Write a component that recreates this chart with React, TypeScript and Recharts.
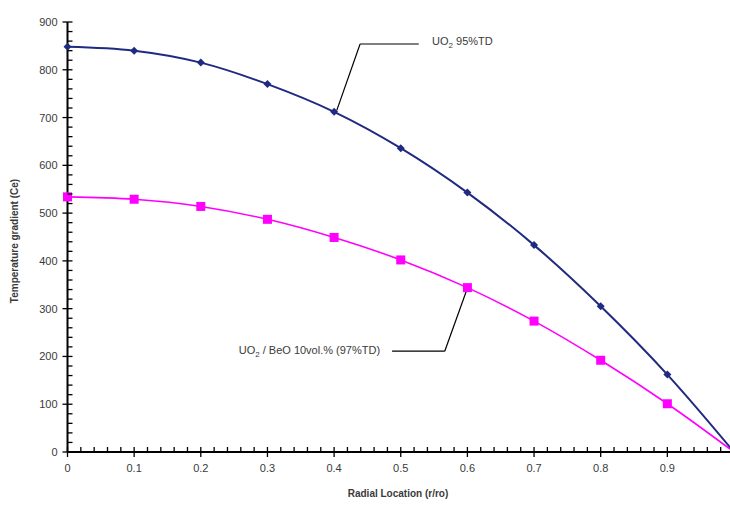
import React from 'react';
import {
    LineChart,
    Line,
    XAxis,
    YAxis,
    ReferenceLine,
    ReferenceDot,
} from 'recharts';

// radial position (r/ro) and temperature gradient readings
const radial = [0, 0.1, 0.2, 0.3, 0.4, 0.5, 0.6, 0.7, 0.8, 0.9, 1.0];
const uo2Values = [848, 840, 815, 770, 712, 636, 543, 433, 305, 162, 0];
const beoValues = [534, 529, 514, 487, 449, 402, 344, 274, 192, 101, 0];

const xMajorTicks = [0, 0.1, 0.2, 0.3, 0.4, 0.5, 0.6, 0.7, 0.8, 0.9];
const yMajorTicks = [0, 100, 200, 300, 400, 500, 600, 700, 800, 900];

const uo2Label = { main: 'UO', sub: '2', rest: ' 95%TD' };
const beoLabel = { main: 'UO', sub: '2', rest: ' / BeO 10vol.% (97%TD)' };

const NAVY = '#1f2a80';
const PINK = '#ff00ff';
const TEXT = '#3a3a3a';
const FONT = '"Liberation Sans", Arial, sans-serif';

const data = radial.map((r, i) => ({ r, uo2: uo2Values[i], beo: beoValues[i] }));

// minor ticks every 0.02 on x, every 20 on y
const xAllTicks = Array.from({ length: 51 }, (_, i) => Math.round(i * 2) / 100);
const yAllTicks = Array.from({ length: 46 }, (_, i) => i * 20);

const isMajorX = (v: number) => xMajorTicks.some(t => Math.abs(t - v) < 1e-6);
const isMajorY = (v: number) => yMajorTicks.includes(v);

const XTick = (props: any) => {
    const { x, y, payload } = props;
    const major = isMajorX(payload.value);
    const top = y - 5;
    const bottom = major ? y + 5 : y;
    return (
        <g>
            <path d={`M${x},${top}L${x},${bottom}`} stroke="#000" strokeWidth={1.3} fill="none" />
            {major && (
                <text x={x} y={y + 20} textAnchor="middle" fontSize={11} fill={TEXT} fontFamily={FONT}>
                    {payload.value}
                </text>
            )}
        </g>
    );
};

const YTick = (props: any) => {
    const { x, y, payload } = props;
    const major = isMajorY(payload.value);
    const left = major ? x - 5 : x;
    return (
        <g>
            <path d={`M${left},${y}L${x + 5},${y}`} stroke="#000" strokeWidth={1.3} fill="none" />
            {major && (
                <text x={x - 10} y={y + 4} textAnchor="end" fontSize={11} fill={TEXT} fontFamily={FONT}>
                    {payload.value}
                </text>
            )}
        </g>
    );
};

const Diamond = (props: any) => {
    const { cx, cy, index } = props;
    if (index === radial.length - 1 || cx == null) return <g key={`d-${index}`} />;
    const s = 4;
    return (
        <path
            key={`d-${index}`}
            d={`M${cx},${cy - s} L${cx + s},${cy} L${cx},${cy + s} L${cx - s},${cy} Z`}
            fill={NAVY}
        />
    );
};

const Square = (props: any) => {
    const { cx, cy, index } = props;
    if (index === radial.length - 1 || cx == null) return <g key={`s-${index}`} />;
    const s = 4.5;
    return <rect key={`s-${index}`} x={cx - s} y={cy - s} width={s * 2} height={s * 2} fill={PINK} />;
};

const annoText = (lbl: { main: string; sub: string; rest: string }, anchor: 'start' | 'end') => (p: any) => (
    <text x={p.cx} y={p.cy} textAnchor={anchor} fontSize={11} fill={TEXT} fontFamily={FONT}>
        {lbl.main}
        <tspan fontSize={8} dy={3}>{lbl.sub}</tspan>
        <tspan dy={-3}>{lbl.rest}</tspan>
    </text>
);

export default function App() {
    return (
        <div style={{ position: 'absolute', left: 0, top: 0, width: 730, height: 506, overflow: 'hidden', background: '#fff' }}>
            {/* plot runs slightly past the right edge, as in the original figure */}
            <LineChart width={736} height={506} data={data} margin={{ top: 22, right: 2, left: 0, bottom: 0 }}>
                <XAxis
                    dataKey="r"
                    type="number"
                    domain={[0, 1]}
                    ticks={xAllTicks}
                    interval={0}
                    tickSize={0}
                    tickMargin={0}
                    tickLine={false}
                    axisLine={{ stroke: '#000', strokeWidth: 2 }}
                    tick={<XTick />}
                    height={54}
                    label={(lp: any) => {
                        const vb = lp.viewBox;
                        return (
                            <text x={398} y={vb.y + 45} textAnchor="middle" fontSize={10} fontWeight="bold" fill={TEXT} fontFamily={FONT}>
                                Radial Location (r/ro)
                            </text>
                        );
                    }}
                />
                <YAxis
                    type="number"
                    domain={[0, 900]}
                    ticks={yAllTicks}
                    interval={0}
                    tickSize={0}
                    tickMargin={0}
                    tickLine={false}
                    axisLine={{ stroke: '#000', strokeWidth: 2 }}
                    tick={<YTick />}
                    width={67.5}
                    label={(lp: any) => {
                        const vb = lp.viewBox;
                        const cx = 18;
                        const cy = vb.y + vb.height / 2 + 4;
                        return (
                            <text x={cx} y={cy} transform={`rotate(-90 ${cx} ${cy})`} textAnchor="middle" fontSize={10} fontWeight="bold" fill={TEXT} fontFamily={FONT}>
                                Temperature gradient (Ce)
                            </text>
                        );
                    }}
                />
                <Line
                    type="monotone"
                    dataKey="uo2"
                    stroke={NAVY}
                    strokeWidth={2}
                    dot={<Diamond />}
                    activeDot={false}
                    isAnimationActive={false}
                />
                <Line
                    type="monotone"
                    dataKey="beo"
                    stroke={PINK}
                    strokeWidth={1.6}
                    dot={<Square />}
                    activeDot={false}
                    isAnimationActive={false}
                />
                {/* leader lines to the series callouts */}
                <ReferenceLine segment={[{ x: 0.404, y: 715 }, { x: 0.439, y: 854 }]} stroke="#000" strokeWidth={1.2} ifOverflow="visible" />
                <ReferenceLine segment={[{ x: 0.439, y: 854 }, { x: 0.527, y: 854 }]} stroke="#000" strokeWidth={1.2} ifOverflow="visible" />
                <ReferenceDot x={0.547} y={851} r={0} ifOverflow="visible" shape={annoText(uo2Label, 'start')} />
                <ReferenceLine segment={[{ x: 0.599, y: 339 }, { x: 0.566, y: 211 }]} stroke="#000" strokeWidth={1.2} ifOverflow="visible" />
                <ReferenceLine segment={[{ x: 0.566, y: 211 }, { x: 0.487, y: 211 }]} stroke="#000" strokeWidth={1.2} ifOverflow="visible" />
                <ReferenceDot x={0.469} y={206} r={0} ifOverflow="visible" shape={annoText(beoLabel, 'end')} />
            </LineChart>
        </div>
    );
}
